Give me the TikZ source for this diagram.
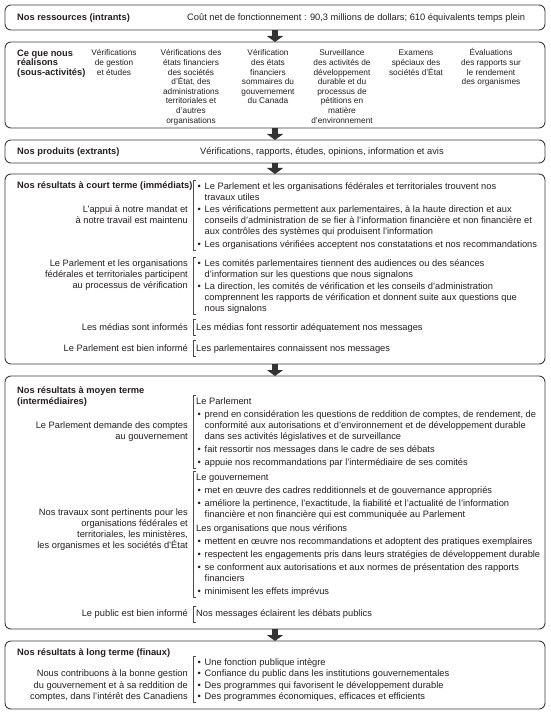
\documentclass[tikz,border=0pt]{standalone}
\usepackage{fontspec}
\setmainfont{Liberation Sans}
\usetikzlibrary{arrows.meta}
\definecolor{ink}{HTML}{231F20}
\definecolor{framecol}{HTML}{3C3C3C}
\definecolor{arrowcol}{HTML}{333333}
\definecolor{brkcol}{HTML}{4A4A4A}
\newcommand{\firststrut}{\rule{0pt}{8.5pt}}
\newcommand{\bitem}{\makebox[8.5pt][l]{\hspace{1.3pt}\textbullet}}
\newcommand{\bcont}{\makebox[8.5pt]{}}
\begin{document}
\begin{tikzpicture}[x=1pt,y=-1pt,
 frame/.style={draw=framecol, line width=0.9pt, rounded corners=6pt, minimum width=540pt, anchor=north west, inner sep=0pt, outer sep=0pt},
 flow/.style={draw=arrowcol, line width=6.5pt, -{Triangle[width=16pt,length=6pt]}},
 txt/.style={text=ink, inner sep=0pt, font=\fontsize{9.3}{11}\selectfont},
 ttl/.style={text=ink, inner sep=0pt, font=\fontsize{9.3}{11}\selectfont\bfseries},
 blk/.style={txt, align=left, anchor=north west},
 lbl/.style={txt, align=right, anchor=north east},
 col/.style={text=ink, inner sep=0pt, font=\fontsize{8.3}{9.6}\selectfont, align=center, anchor=north},
 brk/.style={draw=brkcol, line width=0.6pt},
]
\useasboundingbox (0,0) rectangle (550,714);

% frames
\node[frame, minimum height=25pt] (r1) at (5,5) {};
\node[frame, minimum height=86pt] (r2) at (5,42) {};
\node[frame, minimum height=23pt] (r3) at (5,140) {};
\node[frame, minimum height=190pt] (r4) at (5,174) {};
\node[frame, minimum height=253pt] (r5) at (5,376) {};
\node[frame, minimum height=68pt] (r6) at (5,641) {};

% arrows
\draw[flow] (r1.south) -- (r2.north);
\draw[flow] (r2.south) -- (r3.north);
\draw[flow] (r3.south) -- (r4.north);
\draw[flow] (r4.south) -- (r5.north);
\draw[flow] (r5.south) -- (r6.north);

% box 1
\node[ttl, anchor=base west] (t1) at (17,20.5) {Nos ressources (intrants)};
\node[txt, anchor=base west] (t1b) at (187,20.5) {Coût net de fonctionnement : 90,3 millions de dollars; 610 équivalents temps plein};

% box 2
\node[ttl, align=left, anchor=north west, font=\fontsize{9.3}{9.6}\selectfont\bfseries] (t2) at (17,47.5) {\firststrut Ce que nous\\réalisons\\(sous-activités)};
\node[col] (c1) at (114,48.1) {\rule{0pt}{7.6pt}Vérifications\\de gestion\\et études};
\node[col] (c2) at (191,48.1) {\rule{0pt}{7.6pt}Vérifications des\\états financiers\\des sociétés\\d’État, des\\administrations\\territoriales et\\d’autres\\organisations};
\node[col] (c3) at (268,48.1) {\rule{0pt}{7.6pt}Vérification\\des états\\financiers\\sommaires du\\gouvernement\\du Canada};
\node[col] (c4) at (342,48.1) {\rule{0pt}{7.6pt}Surveillance\\des activités de\\développement\\durable et du\\processus de\\pétitions en\\matière\\d’environnement};
\node[col] (c5) at (416,48.1) {\rule{0pt}{7.6pt}Examens\\spéciaux des\\sociétés d’État};
\node[col] (c6) at (491,48.1) {\rule{0pt}{7.6pt}Évaluations\\des rapports sur\\le rendement\\des organismes};

% box 3
\node[ttl, anchor=base west] (t3) at (17,154.5) {Nos produits (extrants)};
\node[txt, anchor=base west] (t3b) at (200,154.5) {Vérifications, rapports, études, opinions, information et avis};

% box 4
\node[ttl, anchor=base west] (t4) at (17,189) {Nos résultats à court terme (immédiats)};
\node[blk] (g1) at (196,180.5) {\firststrut\bitem Le Parlement et les organisations fédérales et territoriales trouvent nos\\
\bcont travaux utiles\\[1.5pt]
\bitem Les vérifications permettent aux parlementaires, à la haute direction et aux\\
\bcont conseils d’administration de se fier à l’information financière et non financière et\\
\bcont aux contrôles des systèmes qui produisent l’information\\[1.5pt]
\bitem Les organisations vérifiées acceptent nos constatations et nos recommandations};
\node[lbl] (l1) at (188,204) {\firststrut L’appui à notre mandat et\\à notre travail est maintenu};
\draw[brk] (196,180) -- (193,180) -- (193,250) -- (196,250);

\node[blk] (g2) at (196,257.5) {\firststrut\bitem Les comités parlementaires tiennent des audiences ou des séances\\
\bcont d’information sur les questions que nous signalons\\[1.5pt]
\bitem La direction, les comités de vérification et les conseils d’administration\\
\bcont comprennent les rapports de vérification et donnent suite aux questions que\\
\bcont nous signalons};
\node[lbl] (l2) at (188,257.5) {\firststrut Le Parlement et les organisations\\fédérales et territoriales participent\\au processus de vérification};
\draw[brk] (196,257) -- (193,257) -- (193,314) -- (196,314);

\node[txt, anchor=base west] (g3) at (196,330) {Les médias font ressortir adéquatement nos messages};
\node[txt, anchor=base east] (l3) at (188,330) {Les médias sont informés};
\draw[brk] (196,319) -- (193,319) -- (193,335) -- (196,335);

\node[txt, anchor=base west] (g4) at (196,351) {Les parlementaires connaissent nos messages};
\node[txt, anchor=base east] (l4) at (188,351) {Le Parlement est bien informé};
\draw[brk] (196,340) -- (193,340) -- (193,356) -- (196,356);

% box 5
\node[ttl, align=left, anchor=north west] (t5) at (17,384.5) {\firststrut Nos résultats à moyen terme\\(intermédiaires)};
\node[blk] (m1) at (196,395.5) {\firststrut Le Parlement\\[2pt]
\bitem prend en considération les questions de reddition de comptes, de rendement, de\\
\bcont conformité aux autorisations et d’environnement et de développement durable\\
\bcont dans ses activités législatives et de surveillance\\[2pt]
\bitem fait ressortir nos messages dans le cadre de ses débats\\[2pt]
\bitem appuie nos recommandations par l’intermédiaire de ses comités};
\node[lbl] (k1) at (188,419.5) {\firststrut Le Parlement demande des comptes\\au gouvernement};
\draw[brk] (196,395) -- (193,395) -- (193,468) -- (196,468);

\node[blk] (m2) at (196,471.5) {\firststrut Le gouvernement\\[2pt]
\bitem met en œuvre des cadres redditionnels et de gouvernance appropriés\\[2pt]
\bitem améliore la pertinence, l’exactitude, la fiabilité et l’actualité de l’information\\
\bcont financière et non financière qui est communiquée au Parlement\\[3pt]
Les organisations que nous vérifions\\[2pt]
\bitem mettent en œuvre nos recommandations et adoptent des pratiques exemplaires\\[2pt]
\bitem respectent les engagements pris dans leurs stratégies de développement durable\\[2pt]
\bitem se conforment aux autorisations et aux normes de présentation des rapports\\
\bcont financiers\\[2pt]
\bitem minimisent les effets imprévus};
\node[lbl] (k2) at (188,506.5) {\firststrut Nos travaux sont pertinents pour les\\organisations fédérales et\\territoriales, les ministères,\\les organismes et les sociétés d’État};
\draw[brk] (196,471) -- (193,471) -- (193,597) -- (196,597);

\node[txt, anchor=base west] (m3) at (196,616) {Nos messages éclairent les débats publics};
\node[txt, anchor=base east] (k3) at (188,616) {Le public est bien informé};
\draw[brk] (196,606) -- (193,606) -- (193,622) -- (196,622);

% box 6
\node[ttl, anchor=base west] (t6) at (17,655) {Nos résultats à long terme (finaux)};
\node[blk, font=\fontsize{9.3}{11.5}\selectfont] (f1) at (196,656.5) {\firststrut\bitem Une fonction publique intègre\\
\bitem Confiance du public dans les institutions gouvernementales\\
\bitem Des programmes qui favorisent le développement durable\\
\bitem Des programmes économiques, efficaces et efficients};
\node[lbl, font=\fontsize{9.3}{11.5}\selectfont] (h1) at (188,668) {\firststrut Nous contribuons à la bonne gestion\\du gouvernement et à sa reddition de\\comptes, dans l’intérêt des Canadiens};
\draw[brk] (196,656) -- (193,656) -- (193,702) -- (196,702);
\end{tikzpicture}
\end{document}
